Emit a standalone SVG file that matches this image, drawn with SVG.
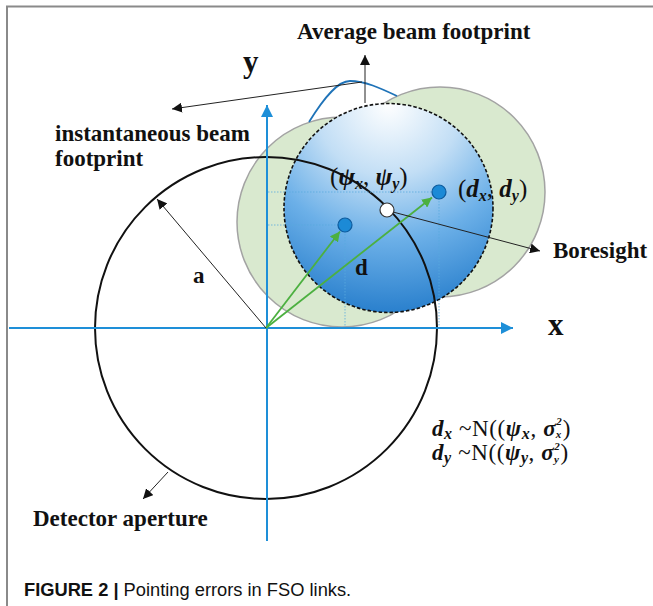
<svg xmlns="http://www.w3.org/2000/svg" width="653" height="606" viewBox="0 0 653 606">
<style>
.lbl{font-family:"Liberation Serif","Times New Roman",serif;font-weight:bold;font-size:23px;fill:#111}
.ax{font-family:"Liberation Serif","Times New Roman",serif;font-weight:bold;font-size:31px;fill:#111}
.m{font-family:"Liberation Serif","Times New Roman",serif;font-size:25px;fill:#111}
.eq{font-family:"Liberation Serif","Times New Roman",serif;font-size:23px;fill:#111}
.bi{font-weight:bold;font-style:italic}
.up{font-weight:normal;font-style:normal}
.sub{font-size:16px}
.ss{font-size:11px}
.cap{font-family:"Liberation Sans",Arial,sans-serif;font-size:18.3px;fill:#111}
.axis{stroke:#1e8fd8;stroke-width:2;fill:none}
.thin{stroke:#222;stroke-width:1;fill:none}
.grn{stroke:#4cb040;stroke-width:1.8;fill:none}
.dot{stroke:#59a9de;stroke-width:0.8;stroke-dasharray:1.5 1.5;fill:none}
.foot{fill:#d9e9cf;stroke:#a3a3a3;stroke-width:1.5}
.bdot{fill:#1c8ad6;stroke:#0e5c9e;stroke-width:1.2}
</style>
<defs>
<marker id="ab" viewBox="0 0 10 10" refX="10" refY="5" markerWidth="10" markerHeight="10" markerUnits="userSpaceOnUse" orient="auto"><path d="M0,0L10,5L0,10z" fill="#111"/></marker>
<marker id="abl" viewBox="0 0 10 10" refX="10" refY="5" markerWidth="12" markerHeight="12" markerUnits="userSpaceOnUse" orient="auto"><path d="M0,0L10,5L0,10z" fill="#1e8fd8"/></marker>
<marker id="ag" viewBox="0 0 10 10" refX="10" refY="5" markerWidth="10" markerHeight="10" markerUnits="userSpaceOnUse" orient="auto"><path d="M0,0L10,5L0,10z" fill="#4cb040"/></marker>
<radialGradient id="bg" cx="0.5" cy="0" r="1" fx="0.5" fy="0">
<stop offset="0" stop-color="#ffffff"/>
<stop offset="0.35" stop-color="#c2def5"/>
<stop offset="0.65" stop-color="#6cb0e8"/>
<stop offset="1" stop-color="#2a80cd"/>
</radialGradient>
</defs>
<rect width="653" height="606" fill="#fff"/>
<path d="M7,606V6.5H653" stroke="#8a8a8a" stroke-width="2" fill="none"/>

<g id="instantaneous-footprints">
<circle class="foot" cx="342" cy="222" r="105"/>
<circle class="foot" cx="440" cy="192" r="105"/>
</g>
<g id="average-footprint">
<circle cx="388.5" cy="208" r="104.5" fill="url(#bg)" stroke="#111" stroke-width="1.6" stroke-dasharray="3.5 2"/>
</g>
<g id="detector-aperture">
<circle cx="266" cy="328" r="171" fill="none" stroke="#111" stroke-width="2"/>
</g>
<g id="beam-profile">
<path d="M309,122C325,96 338,81 350,81C365,81 380,88 397,96" stroke="#1f73b8" stroke-width="1.8" fill="none"/>
</g>

<g id="connectors">
<line class="axis" x1="9" y1="328" x2="513" y2="328" marker-end="url(#abl)"/>
<line class="axis" x1="267" y1="541" x2="267" y2="105" marker-end="url(#abl)"/>
<line class="dot" x1="268" y1="192" x2="433" y2="192"/>
<line class="dot" x1="268" y1="225" x2="339" y2="225"/>
<line class="dot" x1="345" y1="231" x2="345" y2="327"/>
<line class="dot" x1="439" y1="198" x2="439" y2="327"/>
<line class="grn" x1="266" y1="328" x2="340" y2="231.5" marker-end="url(#ag)"/>
<line class="grn" x1="266" y1="328" x2="432" y2="197.5" marker-end="url(#ag)"/>
<line class="thin" x1="266" y1="328" x2="157" y2="199" marker-end="url(#ab)"/>
<line class="thin" x1="393" y1="212" x2="540" y2="251" marker-end="url(#ab)"/>
<line class="thin" x1="168" y1="472" x2="143" y2="499" marker-end="url(#ab)"/>
<line class="thin" x1="362" y1="82" x2="172" y2="109" marker-end="url(#ab)"/>
<line class="thin" x1="365" y1="103" x2="365" y2="55" marker-end="url(#ab)"/>
</g>

<g id="points">
<circle class="bdot" cx="345" cy="225" r="7"/>
<circle class="bdot" cx="439" cy="192" r="7"/>
<circle cx="387" cy="210" r="7" fill="#fff" stroke="#333" stroke-width="1.2"/>
</g>

<g id="labels">
<text class="lbl" x="297" y="39">Average beam footprint</text>
<text class="ax" x="243" y="72">y</text>
<text class="ax" x="548" y="335">x</text>
<text class="lbl" x="55" y="141">instantaneous beam</text>
<text class="lbl" x="55" y="166">footprint</text>
<text class="lbl" x="553" y="258">Boresight</text>
<text class="lbl" x="193" y="283">a</text>
<text class="lbl" x="355" y="275">d</text>
<text class="lbl" x="33" y="526">Detector aperture</text>
<text class="m" x="330" y="185"><tspan class="up">(</tspan><tspan class="bi">ψ</tspan><tspan class="bi sub" dy="4">x</tspan><tspan class="up" dy="-4">, </tspan><tspan class="bi">ψ</tspan><tspan class="bi sub" dy="4">y</tspan><tspan class="up" dy="-4">)</tspan></text>
<text class="m" x="458" y="197"><tspan class="up">(</tspan><tspan class="bi">d</tspan><tspan class="bi sub" dy="4">x</tspan><tspan class="up" dy="-4">, </tspan><tspan class="bi">d</tspan><tspan class="bi sub" dy="4">y</tspan><tspan class="up" dy="-4">)</tspan></text>
<text class="eq" x="432" y="436" letter-spacing="0.6"><tspan class="bi">d</tspan><tspan class="bi sub" dy="3">x</tspan><tspan class="up" dy="-3"> ~N((</tspan><tspan class="bi">ψ</tspan><tspan class="bi sub" dy="3">x</tspan><tspan class="up" dy="-3">, </tspan><tspan class="bi">σ</tspan><tspan class="bi ss" dy="-11">2</tspan><tspan class="bi ss" dx="-6.5" dy="13">x</tspan><tspan class="up" dx="1" dy="-2">)</tspan></text>
<text class="eq" x="432" y="460" letter-spacing="0.6"><tspan class="bi">d</tspan><tspan class="bi sub" dy="3">y</tspan><tspan class="up" dy="-3"> ~N((</tspan><tspan class="bi">ψ</tspan><tspan class="bi sub" dy="3">y</tspan><tspan class="up" dy="-3">, </tspan><tspan class="bi">σ</tspan><tspan class="bi ss" dy="-10">2</tspan><tspan class="bi ss" dx="-6.5" dy="13">y</tspan><tspan class="up" dx="1" dy="-3">)</tspan></text>
<text class="cap" x="24" y="596"><tspan font-weight="bold">FIGURE 2 |</tspan> Pointing errors in FSO links.</text>
</g>
</svg>
